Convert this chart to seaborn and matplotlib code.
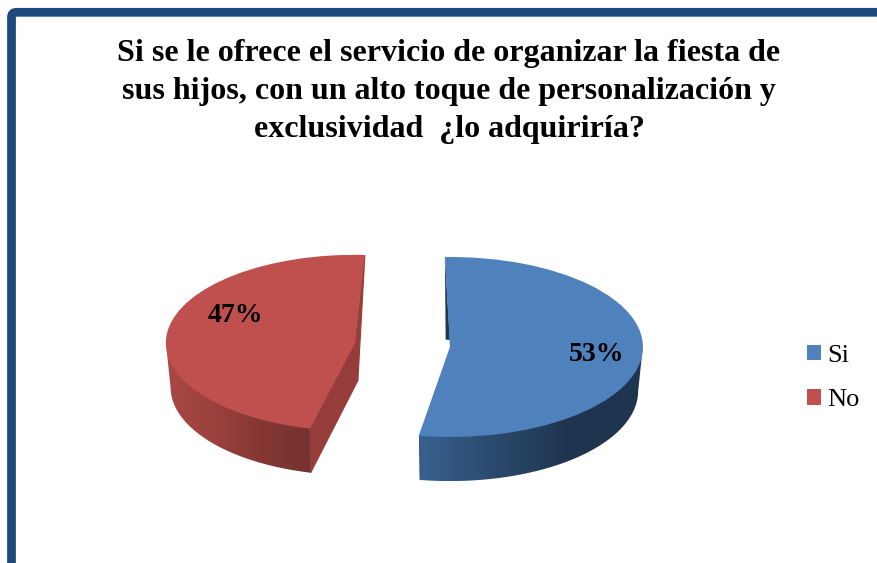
# -*- coding: utf-8 -*-
import matplotlib
matplotlib.use("Agg")
import matplotlib.pyplot as plt
import numpy as np
import seaborn as sns
from matplotlib.colors import LinearSegmentedColormap
from matplotlib.patches import FancyBboxPatch, Polygon
from matplotlib.transforms import IdentityTransform

title = ("Si se le ofrece el servicio de organizar la fiesta de\n"
         "sus hijos, con un alto toque de personalización y\n"
         "exclusividad  ¿lo adquiriría?")
categories = ["Si", "No"]
shares = [0.53, 0.47]

sns.set_theme(style="white")
plt.rcParams["font.family"] = ["Liberation Serif", "DejaVu Serif"]
top_colors = sns.color_palette(["#4F81BD", "#C0504D"])
rim_colors = [["#38608F", "#2B4A6E", "#1F344F", "#1F3550"],
              ["#AA4946", "#9A413E", "#853733", "#733230"]]
cut_colors = ["#1F3550", "#963C3A"]

DEPTH = 0.49
W, H = 877, 563

fig = plt.figure(figsize=(W / 100, H / 100), dpi=100)
ax = fig.add_axes([0, 0, 1, 1])

# dark blue frame, open on the right and at the bottom
fig.add_artist(FancyBboxPatch((11.5, -60), 960, H - 12.3 + 60,
                              boxstyle="round,pad=0,rounding_size=5",
                              fill=False, ec="#1F497D", lw=6.3,
                              transform=IdentityTransform()))


def draw_slice(share, color, center, radius, start, counterclock, pctdistance):
    wedges, _, autotexts = ax.pie([share], normalize=False, colors=[color], center=center,
                                  radius=radius, startangle=start, counterclock=counterclock,
                                  autopct="%.0f%%", pctdistance=pctdistance,
                                  wedgeprops={"linewidth": 0, "zorder": 2},
                                  textprops={"fontsize": 20, "fontweight": "bold",
                                             "color": "black", "zorder": 3})
    return wedges[0], autotexts[0]


def draw_rim(wedge, colors):
    # side of the slice: front part of the arc pushed down by the depth
    cx, cy = wedge.center
    t = np.radians(np.linspace(wedge.theta1, wedge.theta2, 300))
    t = t[np.sin(t) <= 0]
    x_top = cx + wedge.r * np.cos(t)
    y_top = cy + wedge.r * np.sin(t) + 0.02
    x_low = cx + 0.975 * wedge.r * np.cos(t)
    y_low = cy + wedge.r * np.sin(t) - DEPTH
    pts = np.r_[np.c_[x_top, y_top], np.c_[x_low, y_low][::-1]]
    clip = Polygon(pts, closed=True, transform=ax.transData)
    cmap = LinearSegmentedColormap.from_list("rim", colors)
    im = ax.imshow(np.linspace(0, 1, 256)[None, :], cmap=cmap, aspect="auto", zorder=0,
                   extent=(x_top.min(), x_top.max(), y_low.min(), y_top.max()))
    im.set_clip_path(clip)


blue, blue_text = draw_slice(shares[0], top_colors[0], (0.238, -0.022), 1.0, 91.5, False, 0.76)
red, red_text = draw_slice(shares[1], top_colors[1], (-0.254, 0.022), 0.98, 87, True, 0.64)
x_label, y_label = blue_text.get_position()
blue_text.set_position((x_label, y_label - 0.03))
x_label, y_label = red_text.get_position()
red_text.set_position((x_label, y_label + 0.215))

draw_rim(blue, rim_colors[0])
draw_rim(red, rim_colors[1])

# thin dark slit along the straight edge at the top of the blue slice
a = np.radians(blue.theta2)
bx, by = blue.center
ax.add_patch(Polygon([(bx + blue.r * np.cos(a), by + blue.r * np.sin(a)), (bx, by + 0.08),
                      (bx - 0.022, by + 0.08)], fc=cut_colors[0], lw=0, zorder=1))

# flat cut faces of the red slice, with an edge so no white seam shows between them
rx, ry = red.center
a = np.radians(red.theta2)
ex, ey = rx + red.r * np.cos(a), ry + red.r * np.sin(a)
ax.add_patch(Polygon([(rx, ry), (ex, ey), (ex + 0.004, ey - DEPTH), (rx + 0.015, ry - DEPTH * 0.85)],
                     fc=cut_colors[1], ec=cut_colors[1], lw=0.8, zorder=1))
a = np.radians(red.theta1)
ax.add_patch(Polygon([(rx + red.r * np.cos(a), ry + red.r * np.sin(a)), (rx, ry),
                      (rx + 0.015, ry - DEPTH * 0.85)], fc=cut_colors[1], ec=cut_colors[1],
                     lw=0.8, zorder=1))

# pie forces an equal aspect and its own limits: 1 unit is 193 px across and 90 px down
ax.set_aspect("auto")
ax.set_xlim(-404 / 193, (W - 404) / 193)
ax.set_ylim((345 - H) / 90, 345 / 90)
ax.axis("off")

fig.text(449 / W, 1 - 38.5 / H, title, ha="center", va="top", fontsize=23, fontweight="bold",
         color="black", linespacing=1.42, multialignment="center")

ax.legend([blue, red], categories, loc="center left", bbox_to_anchor=(783 / W, 1 - 378 / H),
          bbox_transform=fig.transFigure, frameon=False, fontsize=19, handlelength=0.54,
          handleheight=0.54, handletextpad=0.22, labelspacing=0.85, labelcolor="black")

fig.savefig("out.png", dpi=100)
